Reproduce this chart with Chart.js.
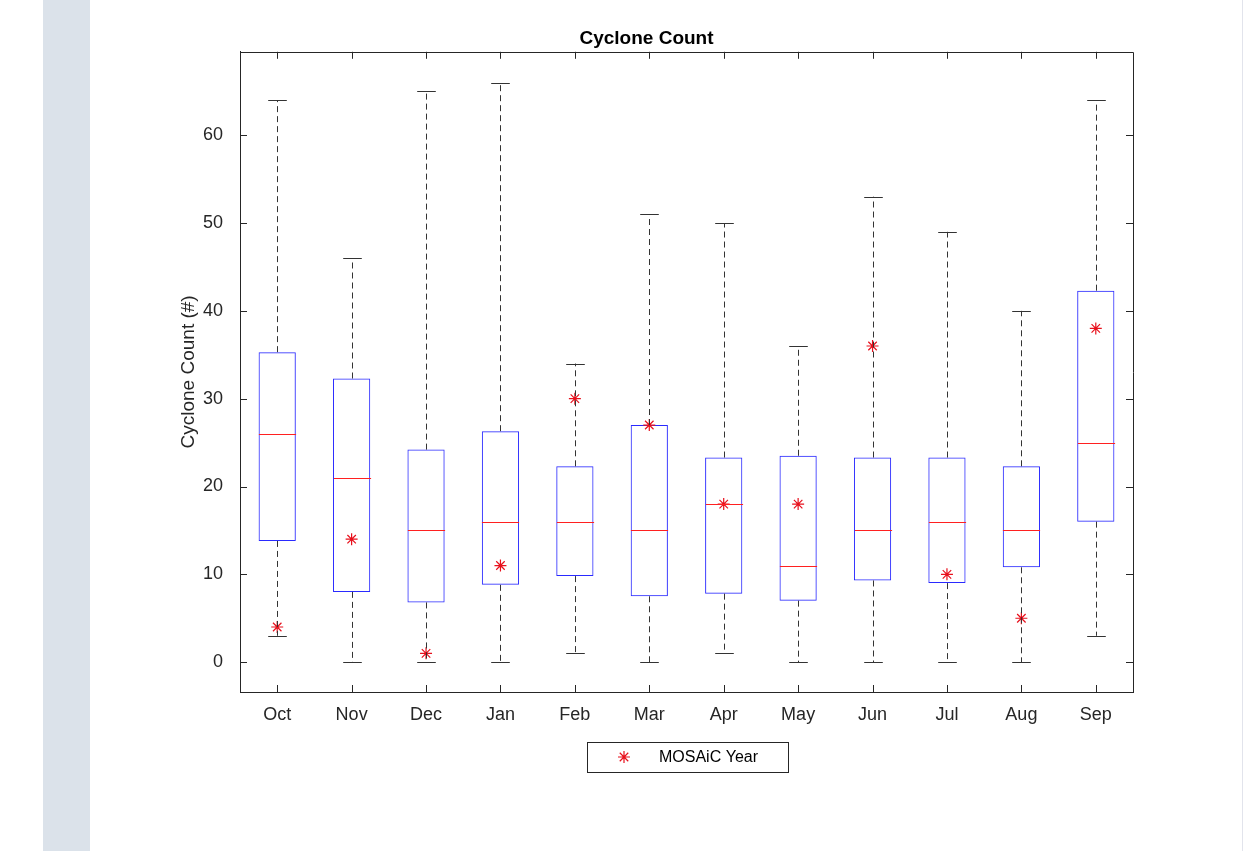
<!DOCTYPE html>
<html>
<head>
<meta charset="utf-8">
<title>Cyclone Count</title>
<script src="https://cdn.jsdelivr.net/npm/chart.js@4.4.0/dist/chart.umd.min.js"></script>
<style>
    html, body { margin: 0; padding: 0; background: #fff; }
    body { width: 1244px; height: 851px; position: relative; overflow: hidden; }
    #stripe { position: absolute; left: 43px; top: 0; width: 47px; height: 851px; background: #dbe2ea; }
    #edge { position: absolute; left: 1242px; top: 0; width: 1px; height: 851px; background: #e2e4ec; }
    #wrap { position: absolute; left: 0; top: 0; width: 1244px; height: 851px; }
</style>
</head>
<body>
<div id="stripe"></div>
<div id="edge"></div>
<div id="wrap"><canvas id="chart" width="1244" height="851"></canvas></div>
<script>
    'use strict';

    // Box plot summary per month (Oct -> Sep)
    const months   = ['Oct', 'Nov', 'Dec', 'Jan', 'Feb', 'Mar', 'Apr', 'May', 'Jun', 'Jul', 'Aug', 'Sep'];
    const whiskLo  = [3, 0, 0, 0, 1, 0, 1, 0, 0, 0, 0, 3];
    const q1       = [13.8, 8, 6.8, 8.8, 9.8, 7.5, 7.8, 7, 9.3, 9, 10.8, 16];
    const median   = [26, 21, 15, 16, 16, 15, 18, 11, 15, 16, 15, 25];
    const q3       = [35.3, 32.3, 24.2, 26.3, 22.3, 27, 23.3, 23.5, 23.3, 23.3, 22.3, 42.3];
    const whiskHi  = [64, 46, 65, 66, 34, 51, 50, 36, 53, 49, 40, 64];
    const mosaic   = [4, 14, 1, 11, 30, 27, 18, 18, 36, 10, 5, 38];
    const yTicks   = [0, 10, 20, 30, 40, 50, 60];

    const FONT = 'Helvetica, "Liberation Sans", Arial, sans-serif';
    const AXIS = '#262626';

    // whiskers, caps, medians and inward ticks, drawn through the chart scales
    const boxParts = {
        id: 'boxParts',
        afterDatasetsDraw(chart) {
            const { ctx, chartArea: a, scales: { x, y } } = chart;
            const unit = x.getPixelForValue(1) - x.getPixelForValue(0);
            const capHalf = unit * 0.125;
            const boxHalf = unit * 0.25;
            ctx.save();
            ctx.lineWidth = 1;
            months.forEach((m, i) => {
                const cx = Math.round(x.getPixelForValue(i)) + 0.5;
                ctx.strokeStyle = '#333';
                ctx.setLineDash([6, 4]);
                ctx.beginPath();
                ctx.moveTo(cx, y.getPixelForValue(q3[i]));
                ctx.lineTo(cx, y.getPixelForValue(whiskHi[i]));
                ctx.moveTo(cx, y.getPixelForValue(q1[i]));
                ctx.lineTo(cx, y.getPixelForValue(whiskLo[i]));
                ctx.stroke();
                ctx.setLineDash([]);
                ctx.beginPath();
                [whiskHi[i], whiskLo[i]].forEach(v => {
                    const py = Math.round(y.getPixelForValue(v)) + 0.5;
                    ctx.moveTo(cx - capHalf, py);
                    ctx.lineTo(cx + capHalf, py);
                });
                ctx.stroke();
                ctx.strokeStyle = '#ff2020';
                ctx.beginPath();
                const my = Math.round(y.getPixelForValue(median[i])) + 0.5;
                ctx.moveTo(cx - boxHalf, my);
                ctx.lineTo(cx + boxHalf, my);
                ctx.stroke();
            });

            // inward ticks on all four sides (MATLAB box style)
            ctx.strokeStyle = AXIS;
            ctx.beginPath();
            const L = 7;
            yTicks.forEach(v => {
                const py = Math.round(y.getPixelForValue(v)) + 0.5;
                ctx.moveTo(a.left, py); ctx.lineTo(a.left + L, py);
                ctx.moveTo(a.right, py); ctx.lineTo(a.right - L, py);
            });
            months.forEach((m, i) => {
                const px = Math.round(x.getPixelForValue(i)) + 0.5;
                ctx.moveTo(px, a.bottom); ctx.lineTo(px, a.bottom - L);
                ctx.moveTo(px, a.top); ctx.lineTo(px, a.top + L);
            });
            ctx.stroke();
            // top and right frame
            ctx.beginPath();
            ctx.moveTo(Math.round(a.left) + 0.5, Math.round(a.top) + 0.5);
            ctx.lineTo(Math.round(a.right) + 0.5, Math.round(a.top) + 0.5);
            ctx.lineTo(Math.round(a.right) + 0.5, Math.round(a.bottom) + 0.5);
            ctx.stroke();
            ctx.restore();
        },
        afterDraw(chart) {
            // legend box under the axes
            const { ctx } = chart;
            ctx.save();
            ctx.fillStyle = '#fff';
            ctx.fillRect(587, 742, 201, 30);
            ctx.strokeStyle = AXIS;
            ctx.lineWidth = 1;
            ctx.strokeRect(587.5, 742.5, 201, 30);
            ctx.strokeStyle = '#e8101c';
            ctx.lineWidth = 1.2;
            Chart.helpers.drawPoint(ctx, { pointStyle: 'star', radius: 6, rotation: 0, borderWidth: 1.2 }, 624, 757);
            ctx.fillStyle = '#000';
            ctx.font = '16px ' + FONT;
            ctx.textBaseline = 'middle';
            ctx.fillText('MOSAiC Year', 659, 758);
            ctx.restore();
        }
    };

    new Chart(document.getElementById('chart'), {
        data: {
            labels: months,
            datasets: [
                {
                    type: 'bar',
                    label: 'IQR',
                    data: months.map((m, i) => [q1[i], q3[i]]),
                    backgroundColor: 'rgba(0,0,0,0)',
                    borderColor: '#2a2aff',
                    borderWidth: 1,
                    borderSkipped: false,
                    categoryPercentage: 1,
                    barPercentage: 0.5,
                    order: 2,
                },
                {
                    type: 'line',
                    label: 'MOSAiC Year',
                    data: mosaic,
                    showLine: false,
                    pointStyle: 'star',
                    pointRadius: 6,
                    pointBorderWidth: 1.2,
                    borderColor: '#e8101c',
                    backgroundColor: '#e8101c',
                    order: 1,
                },
            ],
        },
        options: {
            responsive: false,
            animation: false,
            layout: { padding: { left: 160, top: 27, right: 111, bottom: 119 } },
            plugins: {
                legend: { display: false },
                tooltip: { enabled: false },
                title: {
                    display: true,
                    text: 'Cyclone Count',
                    color: '#000',
                    font: { family: FONT, size: 19, weight: 'bold' },
                    padding: { top: 0, bottom: 2 },
                },
            },
            scales: {
                x: {
                    type: 'category',
                    offset: true,
                    grid: { display: false },
                    border: { display: true, color: AXIS, width: 1 },
                    ticks: { color: AXIS, padding: 4, font: { family: FONT, size: 18 } },
                    afterFit: (s) => { s.height = 40; },
                },
                y: {
                    min: -3.4,
                    max: 69.5,
                    grid: { display: false },
                    border: { display: true, color: AXIS, width: 1 },
                    afterBuildTicks: (s) => { s.ticks = yTicks.map(v => ({ value: v })); },
                    ticks: { color: AXIS, padding: 9, font: { family: FONT, size: 18 } },
                    title: {
                        display: true,
                        text: 'Cyclone Count (#)',
                        color: AXIS,
                        font: { family: FONT, size: 19 },
                        padding: { top: 17, bottom: 0 },
                    },
                    afterFit: (s) => { s.width = 80; },
                },
            },
        },
        plugins: [boxParts],
    });
</script>
</body>
</html>
